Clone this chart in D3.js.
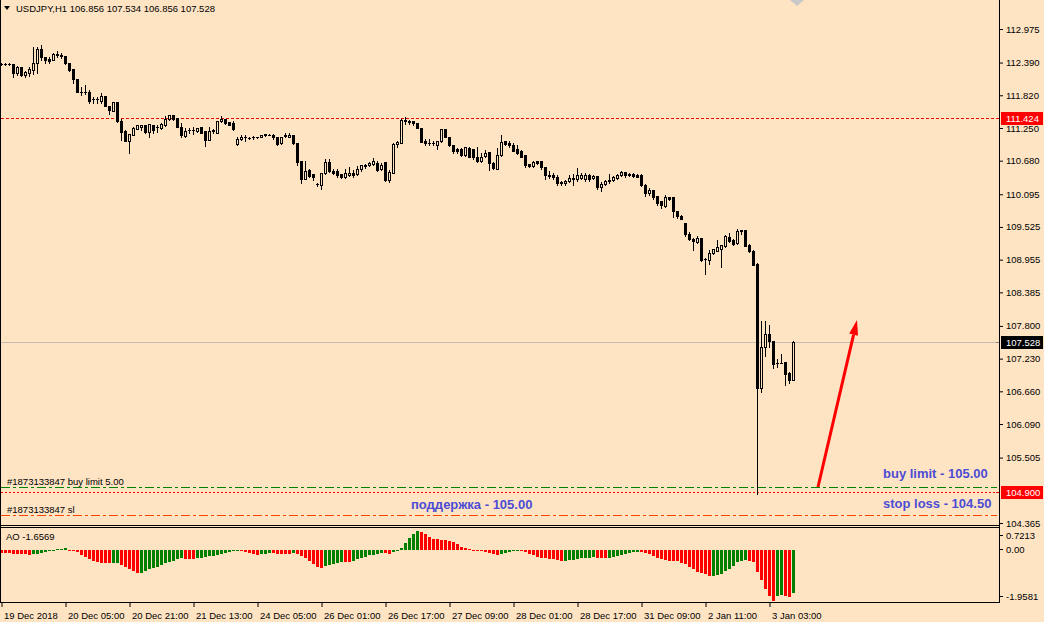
<!DOCTYPE html>
<html><head><meta charset="utf-8">
<script src="https://cdn.jsdelivr.net/npm/d3@7"></script>
<style>
html,body{margin:0;padding:0;background:#FFE4C4;}
svg{display:block;}
text{font-family:"Liberation Sans",Arial,sans-serif;}
</style></head><body>
<svg id="c" width="1044" height="622"></svg>
<script>
const open = [
112.37,112.365,112.368,112.365,112.214,112.307,112.167,112.202,112.26,112.376,
112.62,112.48,112.458,112.435,112.52,112.516,112.504,112.376,112.272,112.109,
111.88,111.877,111.877,111.75,111.749,111.714,111.807,111.633,111.551,111.702,
111.377,111.203,111.028,111.133,111.237,111.261,111.307,111.179,111.307,111.26,
111.249,111.307,111.40,111.47,111.424,111.272,111.11,111.214,111.21,111.203,
111.272,111.191,111.04,111.20,111.168,111.365,111.40,111.354,111.33,110.97,
111.052,111.086,111.08,111.09,111.086,111.098,111.121,111.133,111.133,111.086,
110.982,111.11,111.098,111.121,110.993,110.668,110.366,110.517,110.447,110.27,
110.261,110.459,110.656,110.494,110.505,110.447,110.401,110.424,110.459,110.447,
110.528,110.586,110.598,110.621,110.645,110.528,110.656,110.342,110.47,110.97,
110.993,111.388,111.365,111.365,111.33,111.249,111.016,110.99,110.982,110.958,
111.016,111.226,111.098,110.947,110.877,110.877,110.772,110.90,110.877,110.749,
110.668,110.761,110.83,110.645,110.54,110.772,111.016,110.993,110.947,110.889,
110.854,110.772,110.621,110.586,110.668,110.668,110.563,110.42,110.424,110.401,
110.308,110.285,110.331,110.378,110.355,110.378,110.366,110.436,110.378,110.413,
110.215,110.273,110.32,110.343,110.378,110.424,110.483,110.448,110.448,110.436,
110.436,110.262,110.111,110.169,110.064,109.971,109.89,110.041,110.041,109.809,
109.716,109.588,109.402,109.32,109.262,109.332,108.96,108.949,109.065,109.111,
109.146,109.192,109.344,109.297,109.239,109.471,109.471,109.216,109.111,108.879,
106.712,107.438,107.659,107.543,107.16,107.16,107.171,106.985,106.856];
const high = [
112.38,112.375,112.375,112.37,112.33,112.31,112.248,112.307,112.655,112.655,
112.69,112.49,112.49,112.55,112.585,112.55,112.51,112.38,112.283,112.11,
111.97,111.993,111.91,111.795,111.795,111.853,111.81,111.64,111.71,111.71,
111.412,111.21,111.15,111.26,111.30,111.31,111.31,111.32,111.31,111.296,
111.33,111.458,111.475,111.475,111.43,111.33,111.249,111.249,111.261,111.25,
111.275,111.195,111.261,111.24,111.38,111.458,111.405,111.36,111.377,111.098,
111.133,111.12,111.10,111.11,111.10,111.13,111.15,111.15,111.14,111.09,
111.10,111.168,111.156,111.125,110.995,110.67,110.668,110.528,110.45,110.296,
110.47,110.703,110.703,110.528,110.54,110.45,110.54,110.563,110.517,110.586,
110.61,110.621,110.65,110.726,110.68,110.633,110.66,110.517,110.993,111.028,
111.40,111.435,111.388,111.377,111.335,111.25,111.051,111.051,111.016,111.03,
111.237,111.23,111.10,110.95,110.90,110.90,110.924,110.924,110.88,110.912,
110.807,110.865,110.835,110.65,110.90,111.133,111.028,111.016,110.982,110.958,
110.86,110.775,110.625,110.668,110.67,110.67,110.565,110.494,110.459,110.436,
110.331,110.335,110.424,110.448,110.552,110.459,110.459,110.448,110.436,110.415,
110.308,110.343,110.448,110.413,110.448,110.494,110.485,110.459,110.459,110.448,
110.44,110.265,110.204,110.17,110.065,109.975,110.076,110.045,110.045,109.81,
109.739,109.59,109.437,109.325,109.367,109.335,108.983,109.123,109.146,109.297,
109.21,109.39,109.425,109.309,109.483,109.475,109.475,109.227,109.115,108.902,
107.891,107.88,107.81,107.545,107.229,107.31,107.175,106.99,107.534];
const low = [
112.355,112.355,112.355,112.144,112.173,112.16,112.132,112.155,112.19,112.202,
112.435,112.376,112.376,112.43,112.49,112.47,112.37,112.25,112.028,111.87,
111.824,111.842,111.691,111.691,111.679,111.691,111.63,111.493,111.55,111.354,
111.04,111.02,110.82,111.13,111.23,111.214,111.156,111.098,111.156,111.179,
111.237,111.284,111.395,111.395,111.27,111.098,111.086,111.156,111.144,111.179,
111.16,110.935,111.035,111.17,111.16,111.354,111.319,111.30,111.214,110.959,
111.04,111.028,111.05,111.05,111.07,111.09,111.11,111.12,111.051,110.947,
110.97,111.086,111.086,110.975,110.61,110.284,110.36,110.389,110.342,110.238,
110.18,110.447,110.49,110.447,110.389,110.377,110.377,110.412,110.401,110.424,
110.505,110.552,110.59,110.61,110.505,110.517,110.331,110.308,110.465,110.912,
110.982,111.319,111.319,111.307,111.245,111.0,110.947,110.947,110.947,110.877,
111.01,111.09,110.94,110.819,110.807,110.761,110.761,110.738,110.714,110.656,
110.656,110.738,110.517,110.528,110.528,110.761,110.958,110.924,110.842,110.796,
110.745,110.563,110.563,110.575,110.63,110.54,110.366,110.378,110.355,110.25,
110.262,110.25,110.308,110.25,110.331,110.355,110.331,110.331,110.355,110.18,
110.157,110.25,110.297,110.32,110.366,110.413,110.39,110.413,110.401,110.39,
110.245,110.064,110.087,110.018,109.901,109.855,109.867,109.994,109.704,109.681,
109.657,109.367,109.297,109.123,109.251,108.937,108.704,108.879,109.053,109.1,
108.832,109.181,109.262,109.216,109.227,109.402,109.19,109.088,108.86,104.87,
106.654,107.275,107.438,107.066,107.078,107.147,106.764,106.799,106.856];
const close = [
112.365,112.368,112.365,112.202,112.307,112.167,112.225,112.272,112.376,112.62,
112.48,112.435,112.423,112.54,112.54,112.51,112.376,112.26,112.097,111.877,
111.877,111.88,111.714,111.749,111.755,111.807,111.633,111.563,111.702,111.365,
111.179,111.028,111.144,111.249,111.296,111.307,111.179,111.319,111.214,111.262,
111.319,111.412,111.47,111.40,111.272,111.133,111.203,111.21,111.214,111.249,
111.168,111.04,111.203,111.22,111.377,111.40,111.33,111.307,111.226,111.052,
111.098,111.09,111.075,111.085,111.09,111.121,111.144,111.135,111.086,110.97,
111.098,111.133,111.133,110.982,110.656,110.366,110.505,110.412,110.389,110.273,
110.459,110.656,110.494,110.47,110.424,110.401,110.47,110.47,110.435,110.54,
110.598,110.598,110.645,110.668,110.517,110.61,110.342,110.482,110.97,111.005,
111.388,111.365,111.36,111.342,111.249,111.005,110.982,110.993,110.985,111.028,
111.226,111.098,110.947,110.854,110.842,110.772,110.912,110.749,110.738,110.668,
110.738,110.807,110.633,110.552,110.784,111.005,110.97,110.947,110.854,110.807,
110.749,110.61,110.586,110.656,110.633,110.575,110.424,110.424,110.39,110.297,
110.285,110.331,110.378,110.355,110.424,110.436,110.424,110.366,110.413,110.227,
110.273,110.32,110.343,110.39,110.436,110.483,110.436,110.424,110.413,110.401,
110.25,110.111,110.169,110.053,109.948,109.901,110.041,110.018,109.797,109.716,
109.669,109.402,109.32,109.274,109.332,108.949,108.972,109.065,109.134,109.169,
109.204,109.367,109.274,109.227,109.46,109.448,109.192,109.1,108.867,106.712,
107.438,107.659,107.543,107.136,107.159,107.16,106.961,106.856,107.528];
const ao = [
-0.127,-0.13,-0.135,-0.14,-0.15,-0.16,-0.175,-0.2,-0.17,-0.14,
-0.11,-0.08,-0.03,0.01,0.03,0.05,0.06,-0.01,-0.05,-0.10,
-0.18,-0.28,-0.36,-0.41,-0.46,-0.50,-0.51,-0.52,-0.51,-0.50,
-0.58,-0.66,-0.74,-0.82,-0.89,-0.87,-0.80,-0.74,-0.69,-0.64,
-0.58,-0.51,-0.46,-0.41,-0.36,-0.33,-0.35,-0.355,-0.36,-0.33,
-0.31,-0.28,-0.25,-0.23,-0.20,-0.16,-0.11,-0.08,-0.05,-0.02,
-0.05,-0.08,-0.12,-0.15,-0.18,-0.16,-0.14,-0.13,-0.135,-0.14,
-0.145,-0.15,-0.155,-0.12,-0.16,-0.23,-0.33,-0.44,-0.56,-0.66,
-0.69,-0.62,-0.59,-0.56,-0.51,-0.46,-0.465,-0.47,-0.41,-0.36,
-0.31,-0.26,-0.21,-0.18,-0.15,-0.13,-0.135,-0.14,-0.10,-0.05,
0.08,0.25,0.46,0.62,0.7213,0.70,0.59,0.48,0.43,0.40,
0.39,0.37,0.34,0.31,0.22,0.12,0.07,0.03,-0.01,-0.05,
-0.06,-0.08,-0.11,-0.15,-0.18,-0.15,-0.11,-0.08,-0.05,-0.01,
-0.02,-0.10,-0.15,-0.20,-0.28,-0.31,-0.33,-0.355,-0.36,-0.38,
-0.44,-0.43,-0.40,-0.38,-0.36,-0.33,-0.31,-0.30,-0.29,-0.30,
-0.31,-0.315,-0.30,-0.27,-0.23,-0.18,-0.15,-0.12,-0.10,-0.09,
-0.10,-0.13,-0.16,-0.23,-0.31,-0.36,-0.39,-0.41,-0.42,-0.44,
-0.49,-0.56,-0.64,-0.74,-0.84,-0.89,-0.94,-1.00,-0.99,-0.96,
-0.92,-0.82,-0.74,-0.61,-0.46,-0.41,-0.40,-0.43,-0.46,-0.84,
-1.15,-1.50,-1.76,-1.9581,-1.78,-1.73,-1.76,-1.80,-1.6569];
const priceTicks = [112.975,112.390,111.820,111.250,110.680,110.095,109.525,108.955,108.385,107.800,107.230,106.660,106.090,105.505,104.365];
const timeIdx = [0,16,32,48,64,80,96,112,128,144,160,176,192];
const timeLabels = ["19 Dec 2018","20 Dec 05:00","20 Dec 21:00","21 Dec 13:00","24 Dec 05:00","26 Dec 01:00","26 Dec 17:00","27 Dec 09:00","28 Dec 01:00","28 Dec 17:00","31 Dec 09:00","2 Jan 11:00","3 Jan 03:00"];
const aoMax = 0.7213, aoMin = -1.9581, aoLast = -1.6569;
const hLevel = 111.424, supportLevel = 104.900, buyLimit = 105.00, stopLoss = 104.50;
const lastPrice = 107.528;

const BG = "#FFE4C4";
const FS = 9.5;
const svg = d3.select("#c");
svg.append("rect").attr("width",1044).attr("height",622).attr("fill",BG);

const x = d3.scaleLinear().domain([0,198]).range([1,793]);
const y = d3.scaleLinear().domain([104.365,112.975]).range([523,29]);
const ya = d3.scaleLinear().domain([aoMin,aoMax]).range([601,531]);
const yr = v => Math.round(y(v));

svg.append("clipPath").attr("id","mc").append("rect").attr("x",1).attr("y",0).attr("width",998).attr("height",525);
const main = svg.append("g").attr("clip-path","url(#mc)");

// horizontal lines
main.append("line").attr("x1",0).attr("x2",999).attr("y1",yr(lastPrice)+0.5).attr("y2",yr(lastPrice)+0.5)
  .attr("stroke","#c4bcb4").attr("stroke-width",1);
main.append("line").attr("x1",1).attr("x2",999).attr("y1",yr(hLevel)+0.5).attr("y2",yr(hLevel)+0.5)
  .attr("stroke","#e00000").attr("stroke-width",1).attr("stroke-dasharray","3,2");
main.append("line").attr("x1",1).attr("x2",999).attr("y1",yr(supportLevel)+0.5).attr("y2",yr(supportLevel)+0.5)
  .attr("stroke","#ff0000").attr("stroke-width",1).attr("stroke-dasharray","2,2");
main.append("line").attr("x1",1).attr("x2",997).attr("y1",yr(buyLimit)+0.5).attr("y2",yr(buyLimit)+0.5)
  .attr("stroke","#008000").attr("stroke-width",1).attr("stroke-dasharray","9,3,3,3");
main.append("line").attr("x1",1).attr("x2",997).attr("y1",yr(stopLoss)+0.5).attr("y2",yr(stopLoss)+0.5)
  .attr("stroke","#ff4500").attr("stroke-width",1).attr("stroke-dasharray","9,3,3,3");

// candles
const bars = d3.range(open.length);
const cg = main.append("g");
bars.forEach(i=>{
  const xc = Math.round(x(i));
  const o = yr(open[i]), c = yr(close[i]), h = yr(high[i]), l = yr(low[i]);
  const top = Math.min(o,c), bot = Math.max(o,c);
  cg.append("line").attr("x1",xc+0.5).attr("x2",xc+0.5).attr("y1",h).attr("y2",l+1).attr("stroke","#000").attr("stroke-width",1);
  if (bot - top < 1) {
    cg.append("line").attr("x1",xc-1).attr("x2",xc+2).attr("y1",top+0.5).attr("y2",top+0.5).attr("stroke","#000");
  } else if (close[i] >= open[i]) {
    cg.append("rect").attr("x",xc-0.5).attr("y",top+0.5).attr("width",2).attr("height",bot-top)
      .attr("fill",BG).attr("stroke","#000").attr("stroke-width",1);
  } else {
    cg.append("rect").attr("x",xc-1).attr("y",top).attr("width",3).attr("height",bot-top+1).attr("fill","#000");
  }
});

// arrow
(function(){
  const sx=818, sy=yr(buyLimit), tx=857, ty=320;
  const dx=tx-sx, dy=ty-sy, L=Math.hypot(dx,dy), ux=dx/L, uy=dy/L, px=-uy, py=ux;
  const bx=tx-15*ux, by=ty-15*uy;
  main.append("line").attr("x1",sx).attr("y1",sy).attr("x2",bx).attr("y2",by).attr("stroke","#ff0000").attr("stroke-width",3);
  main.append("polygon").attr("points",[[tx,ty],[bx+4.5*px,by+4.5*py],[bx-4.5*px,by-4.5*py]].map(p=>p.join(",")).join(" "))
    .attr("fill","#ff0000");
})();

// chart-shift marker
svg.append("polygon").attr("points","790,0 804,0 797,6").attr("fill","#c8c8c8");

// texts in main
svg.append("polygon").attr("points","4,6 10,6 7,10").attr("fill","#000");
svg.append("text").attr("x",16).attr("y",11.5).attr("font-size",FS).attr("fill","#000")
  .text("USDJPY,H1  " + [open[198],high[198],low[198],close[198]].map(d=>d.toFixed(3)).join(" "));
svg.append("text").attr("x",7).attr("y",yr(buyLimit)-2).attr("font-size",FS).attr("fill","#000").text("#1873133847 buy limit 5.00");
svg.append("text").attr("x",7).attr("y",yr(stopLoss)-2).attr("font-size",FS).attr("fill","#000").text("#1873133847 sl");
const blue = "#4c4cd4";
svg.append("text").attr("x",411).attr("y",509).attr("font-size",13).attr("font-weight","bold").attr("fill",blue).text("поддержка - 105.00");
svg.append("text").attr("x",883).attr("y",478).attr("font-size",13).attr("font-weight","bold").attr("fill",blue).text("buy limit - 105.00");
svg.append("text").attr("x",883).attr("y",508).attr("font-size",13).attr("font-weight","bold").attr("fill",blue).text("stop loss - 104.50");

// AO panel
const ag = svg.append("g");
const z = Math.round(ya(0));
bars.forEach(i=>{
  const xc = Math.round(x(i));
  const v = Math.round(ya(ao[i]));
  const up = i===0 ? false : ao[i] > ao[i-1];
  const t = Math.min(v,z), b = Math.max(v,z);
  ag.append("rect").attr("x",xc-1).attr("y",t).attr("width",3).attr("height",Math.max(1,b-t))
    .attr("fill", up ? "#008000" : "#ff0000");
});
svg.append("text").attr("x",6).attr("y",540).attr("font-size",FS).attr("fill","#000").text("AO " + aoLast.toFixed(4));

// frames
const fr = svg.append("g").attr("stroke","#000").attr("stroke-width",1);
fr.append("line").attr("x1",0.5).attr("x2",0.5).attr("y1",0).attr("y2",603);
fr.append("line").attr("x1",0).attr("x2",1000).attr("y1",525.5).attr("y2",525.5);
fr.append("line").attr("x1",0).attr("x2",1000).attr("y1",527.5).attr("y2",527.5);
fr.append("line").attr("x1",0).attr("x2",1000).attr("y1",602.5).attr("y2",602.5);
fr.append("line").attr("x1",999.5).attr("x2",999.5).attr("y1",0).attr("y2",603);

// price axis
const ax = svg.append("g").attr("transform","translate(1000,0)")
  .call(d3.axisRight(y).tickValues(priceTicks).tickSize(3).tickPadding(3).tickFormat(d3.format(".3f")));
ax.select(".domain").remove();
ax.selectAll("text").attr("font-size",FS).attr("font-family","'Liberation Sans',Arial,sans-serif").attr("fill","#000");
ax.selectAll("line").attr("stroke","#000");

function levelLabel(v, bg){
  const yy = yr(v);
  svg.append("line").attr("x1",996).attr("x2",999).attr("y1",yy+0.5).attr("y2",yy+0.5).attr("stroke",bg==="#000000"?"#888":bg);
  svg.append("rect").attr("x",1001).attr("y",yy-6).attr("width",42).attr("height",13).attr("fill",bg);
  svg.append("text").attr("x",1006).attr("y",yy+3.5).attr("font-size",FS).attr("fill","#fff").text(v.toFixed(3));
}
levelLabel(hLevel,"#ff0000");
levelLabel(lastPrice,"#000000");
levelLabel(supportLevel,"#ff0000");

[[aoMax,535,aoMax.toFixed(4)],[0,549,"0.00"],[aoMin,596,aoMin.toFixed(4)]].forEach(d=>{
  svg.append("line").attr("x1",1000).attr("x2",1003).attr("y1",d[1]+0.5).attr("y2",d[1]+0.5).attr("stroke","#000");
  svg.append("text").attr("x",1006).attr("y",d[1]+3.5).attr("font-size",FS).attr("fill","#000").text(d[2]);
});

// time axis
const tx = svg.append("g").attr("transform","translate(0.5,603)")
  .call(d3.axisBottom(x).tickValues(timeIdx).tickSize(4).tickPadding(5).tickFormat((d,i)=>timeLabels[i]));
tx.select(".domain").remove();
tx.selectAll("line").attr("stroke","#000");
tx.selectAll("text").attr("text-anchor","start").attr("x",2).attr("font-size",FS).attr("font-family","'Liberation Sans',Arial,sans-serif").attr("fill","#000");
</script>
</body></html>
